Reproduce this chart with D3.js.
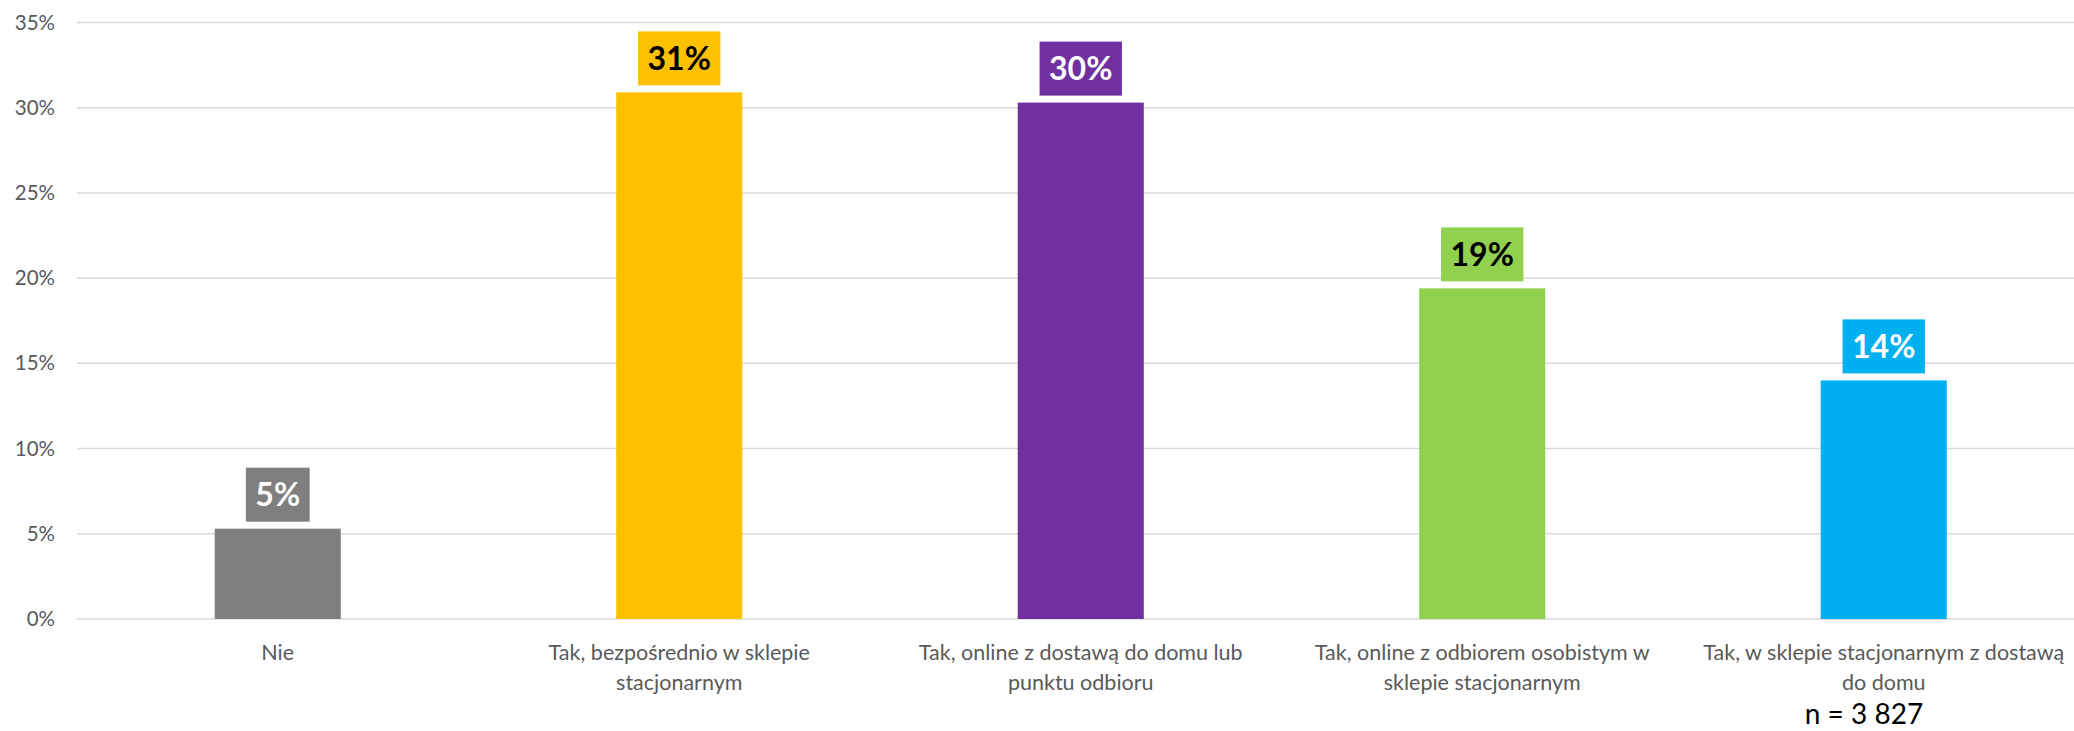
<!DOCTYPE html>
<html>
<head>
<meta charset="utf-8">
<script src="https://cdn.jsdelivr.net/npm/d3@7"></script>
<style>
  html, body { margin: 0; padding: 0; background: #ffffff; }
  svg { display: block; }
</style>
</head>
<body>
<svg id="chart" width="2074" height="731"></svg>
<script>
// ---- data ----
const categories = [
  "Nie",
  "Tak, bezpośrednio w sklepie\nstacjonarnym",
  "Tak, online z dostawą do domu lub\npunktu odbioru",
  "Tak, online z odbiorem osobistym w\nsklepie stacjonarnym",
  "Tak, w sklepie stacjonarnym z dostawą\ndo domu"
];
const values = [0.053, 0.309, 0.303, 0.194, 0.140];
const barColors = ["#7F7F7F", "#FFC000", "#7030A0", "#92D050", "#00B0F0"];
const labelTextColors = ["#FFFFFF", "#000000", "#FFFFFF", "#000000", "#FFFFFF"];
const yTicks = [0, 0.05, 0.10, 0.15, 0.20, 0.25, 0.30, 0.35];
const sampleNote = "n = 3 827";

(function () {
// ---- layout ----
const W = 2074, H = 731;
const mLeft = 77, mRight = 2084.5, mTop = 22.5, mBottom = 619;
const svg = d3.select("#chart");

const x = d3.scaleBand()
  .domain(categories)
  .range([mLeft, mRight])
  .paddingInner(0.686)
  .paddingOuter(0.343);

const y = d3.scaleLinear().domain([0, 0.35]).range([mBottom, mTop]);
const fmt = d3.format(".0%");

// gridlines
svg.append("g")
  .selectAll("line")
  .data(yTicks)
  .join("line")
  .attr("x1", mLeft).attr("x2", W)
  .attr("y1", d => y(d)).attr("y2", d => y(d))
  .attr("stroke", "#D9D9D9")
  .attr("stroke-width", 1.5);

// y axis labels
const yAxis = d3.axisLeft(y).tickValues(yTicks).tickFormat(fmt).tickSize(0).tickPadding(0);
const yg = svg.append("g").attr("transform", "translate(55,0)").call(yAxis);
yg.select(".domain").remove();
yg.selectAll("text")
  .attr("fill", "#595959")
  .style("font-family", "Lato, 'Open Sans', sans-serif")
  .style("font-size", "20.5px");

// bars
svg.append("g")
  .selectAll("rect")
  .data(categories)
  .join("rect")
  .attr("x", d => x(d))
  .attr("width", x.bandwidth())
  .attr("y", (d, i) => y(values[i]))
  .attr("height", (d, i) => y(0) - y(values[i]))
  .attr("fill", (d, i) => barColors[i]);

// data labels with boxes
const lg = svg.append("g");
categories.forEach((c, i) => {
  const cx = x(c) + x.bandwidth() / 2;
  const boxBottom = y(values[i]) - 7;
  const boxH = 54;
  const g = lg.append("g");
  const rect = g.append("rect").attr("fill", barColors[i]);
  const t = g.append("text")
    .attr("x", cx)
    .attr("y", boxBottom - boxH / 2 + 11.5)
    .attr("text-anchor", "middle")
    .attr("fill", labelTextColors[i])
    .style("font-family", "Lato, 'Open Sans', sans-serif")
    .style("font-weight", "bold")
    .style("font-size", "32px")
    .text(fmt(values[i]));
  const bw = t.node().getComputedTextLength() + 19;
  rect.attr("x", cx - bw / 2).attr("y", boxBottom - boxH).attr("width", bw).attr("height", boxH);
});

// category labels
const cg = svg.append("g");
categories.forEach((c, i) => {
  const cx = x(c) + x.bandwidth() / 2;
  const t = cg.append("text")
    .attr("text-anchor", "middle")
    .attr("fill", "#595959")
    .style("font-family", "Lato, 'Open Sans', sans-serif")
    .style("font-size", "21.5px");
  c.split("\n").forEach((line, k) => {
    t.append("tspan").attr("x", cx).attr("y", 660 + k * 30).text(line);
  });
});

// sample size note
svg.append("text")
  .attr("x", 1864)
  .attr("y", 724)
  .attr("text-anchor", "middle")
  .attr("fill", "#000000")
  .style("font-family", "Lato, 'Open Sans', sans-serif")
  .style("font-size", "28px")
  .text(sampleNote);
})();
</script>
</body>
</html>
